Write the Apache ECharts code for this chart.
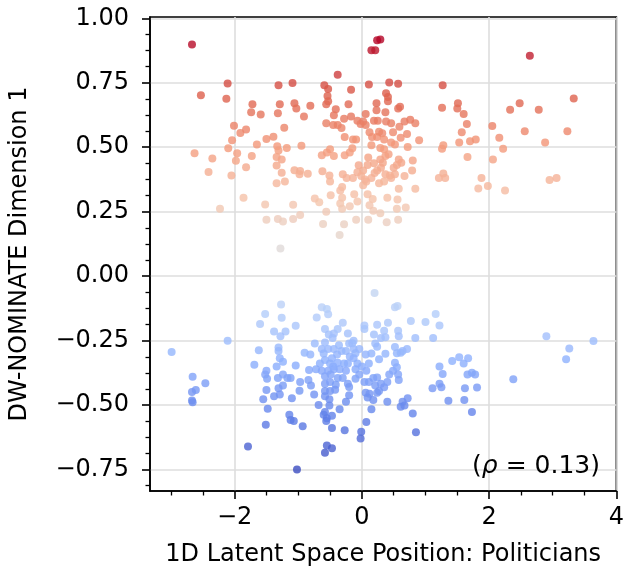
<!DOCTYPE html>
<html>
<head>
<meta charset="utf-8">
<script src="https://cdn.jsdelivr.net/npm/echarts@6/dist/echarts.min.js"></script>
<style>html,body{margin:0;padding:0;background:#fff}#c{width:627px;height:572px}</style>
</head>
<body>
<div id="c"></div>
<script>
// ---- data ----
const upperX = [-2.67,-2.53,-2.63,-2.35,-2.41,-2.23,-2.11,-2.13,-2.01,-2.04,-2.10,-1.96,-1.98,-2.05,-1.91,-1.82,-1.82,-1.86,-1.72,-1.74,-1.59,-1.73,-1.65,-1.50,-1.39,-1.31,-1.29,-1.32,-1.22,-1.33,-1.31,-1.18,-1.34,-1.26,-1.34,-1.26,-1.34,-1.21,-1.52,-1.50,-1.32,-1.24,-1.08,-1.08,-0.97,-1.28,-1.09,-1.06,-1.03,-0.91,-0.81,-0.95,-1.06,-0.97,-0.98,-0.85,-0.74,-0.67,-0.56,-0.61,-0.28,-0.35,-0.62,-0.63,-0.55,-0.50,-0.44,-0.51,-0.50,-0.49,-0.59,-0.53,-0.54,-0.53,-0.56,-0.56,-0.38,-0.41,-0.44,-0.45,-0.38,-0.32,-0.27,-0.28,-0.17,-0.21,-0.17,-0.07,-0.14,-0.09,-0.15,-0.27,-0.30,-0.31,-0.34,-0.31,-0.34,-0.31,-0.19,-0.24,-0.14,-0.12,-0.07,-0.09,0.02,-0.02,0.06,0.11,0.06,0.15,0.21,0.24,0.29,0.23,0.23,0.19,0.25,0.12,0.16,0.24,0.32,0.15,0.29,0.35,0.35,0.38,0.38,0.41,0.43,0.41,0.37,0.46,0.49,0.46,0.57,0.57,0.60,0.59,0.61,0.52,0.71,0.72,0.67,0.76,0.84,0.90,0.80,0.79,0.67,0.84,0.69,0.57,0.55,0.56,0.58,0.40,0.39,0.29,0.18,0.10,0.12,0.17,0.09,0.02,0.07,0.15,0.27,0.35,0.37,0.24,0.19,0.29,0.37,0.42,0.58,0.55,0.52,0.46,0.09,0.02,-0.07,-0.01,-0.19,1.27,1.26,1.28,1.26,1.28,1.21,1.31,1.51,1.50,1.60,1.65,1.57,1.53,1.70,1.79,1.66,1.88,1.83,1.98,2.05,2.16,2.22,2.06,2.25,2.33,2.48,2.56,2.64,2.78,2.88,2.95,3.06,3.23,3.33,0.30,0.44,0.50,0.33,0.20,0.05,-0.05,0.27,0.62,0.10];
const upperY = [0.898,0.702,0.477,0.456,0.404,0.261,0.747,0.688,0.583,0.527,0.496,0.477,0.448,0.390,0.555,0.569,0.422,0.304,0.667,0.636,0.627,0.466,0.511,0.532,0.541,0.740,0.667,0.632,0.576,0.504,0.487,0.497,0.462,0.452,0.429,0.401,0.360,0.367,0.278,0.219,0.222,0.212,0.277,0.222,0.237,0.107,0.749,0.671,0.650,0.619,0.661,0.506,0.411,0.408,0.395,0.397,0.301,0.287,0.250,0.202,0.201,0.160,0.407,0.469,0.480,0.492,0.466,0.390,0.367,0.314,0.740,0.726,0.699,0.678,0.667,0.593,0.781,0.647,0.624,0.586,0.586,0.575,0.540,0.610,0.723,0.667,0.619,0.603,0.530,0.530,0.496,0.469,0.395,0.346,0.332,0.304,0.282,0.261,0.271,0.381,0.381,0.318,0.290,0.219,0.600,0.590,0.586,0.743,0.629,0.876,0.876,0.915,0.918,0.671,0.643,0.603,0.603,0.558,0.540,0.540,0.554,0.508,0.497,0.492,0.530,0.600,0.709,0.695,0.751,0.678,0.636,0.593,0.558,0.518,0.746,0.650,0.657,0.579,0.537,0.511,0.551,0.501,0.600,0.607,0.593,0.527,0.449,0.410,0.388,0.339,0.266,0.219,0.261,0.297,0.339,0.304,0.209,0.244,0.254,0.219,0.275,0.299,0.318,0.353,0.367,0.381,0.360,0.367,0.395,0.410,0.438,0.452,0.466,0.473,0.452,0.431,0.395,0.381,0.431,0.410,0.403,0.388,0.480,0.740,0.653,0.508,0.494,0.398,0.381,0.381,0.671,0.650,0.629,0.590,0.558,0.518,0.523,0.530,0.462,0.381,0.340,0.350,0.582,0.537,0.494,0.452,0.332,0.645,0.671,0.562,0.855,0.645,0.518,0.373,0.381,0.562,0.689,0.420,0.390,0.420,0.440,0.400,0.375,0.430,0.560,0.440,0.460];
const lowerX = [-2.99,-2.66,-2.67,-2.61,-2.46,-2.67,-2.66,-2.11,-1.79,-1.02,-1.52,-1.60,-1.62,-1.69,-1.27,-1.26,-1.38,-1.20,-1.04,-1.28,-1.31,-1.31,-1.29,-1.24,-1.34,-1.50,-1.52,-1.49,-1.32,-1.24,-1.17,-1.12,-1.24,-1.31,-1.50,-1.55,-1.38,-1.29,-1.10,-1.48,-1.14,-1.12,-1.07,-0.93,-1.51,-1.04,-0.97,-0.98,-0.90,-0.81,-0.83,-0.84,-0.80,-0.75,-0.74,-0.71,-0.63,-0.55,-0.53,-0.58,-0.52,-0.44,-0.38,-0.30,-0.46,-0.58,-0.63,-0.53,-0.44,-0.36,-0.32,-0.25,-0.39,-0.47,-0.58,-0.50,-0.38,-0.28,-0.66,-0.72,-0.63,-0.53,-0.44,-0.35,-0.25,-0.58,-0.49,-0.38,-0.30,-0.58,-0.50,-0.41,-0.58,-0.50,-0.58,-0.51,-0.20,-0.25,-0.51,-0.58,-0.60,-0.55,-0.47,-0.56,-0.47,-0.35,-0.27,-0.55,-0.47,-0.58,-0.22,-0.20,-0.19,-0.22,-0.13,-0.04,-0.10,-0.13,-0.07,-0.10,-0.10,-0.04,0.04,0.04,0.20,0.24,0.19,0.21,0.30,0.35,0.41,0.37,0.24,0.37,0.27,0.18,0.24,0.06,0.11,0.07,0.04,0.11,0.21,0.30,0.35,0.40,0.43,0.49,0.52,0.55,0.57,0.58,0.52,0.55,0.61,0.64,0.71,0.57,0.58,0.52,0.56,0.77,0.84,1.00,1.16,1.22,1.12,0.06,0.12,0.24,0.09,0.18,0.40,0.27,0.15,0.07,-0.01,-0.02,0.61,0.64,0.72,0.67,0.80,0.85,1.11,1.22,1.25,1.22,1.27,1.36,1.42,1.53,1.60,1.67,1.66,1.73,1.78,1.62,1.81,1.61,1.73,2.38,2.90,3.26,3.21,3.64,-0.22,-0.13,-0.20,-0.45,-0.60,-0.15,0.15,0.00,-0.68,-0.42];
const lowerY = [-0.294,-0.390,-0.449,-0.441,-0.415,-0.482,-0.489,-0.250,-0.660,-0.750,-0.147,-0.185,-0.287,-0.343,-0.110,-0.161,-0.215,-0.215,-0.192,-0.233,-0.277,-0.290,-0.318,-0.332,-0.350,-0.367,-0.381,-0.398,-0.395,-0.381,-0.395,-0.395,-0.424,-0.435,-0.441,-0.477,-0.466,-0.459,-0.473,-0.514,-0.537,-0.558,-0.562,-0.582,-0.576,-0.346,-0.410,-0.444,-0.297,-0.304,-0.364,-0.403,-0.424,-0.459,-0.261,-0.160,-0.120,-0.127,-0.148,-0.205,-0.226,-0.222,-0.205,-0.181,-0.240,-0.257,-0.282,-0.282,-0.282,-0.268,-0.290,-0.290,-0.304,-0.318,-0.325,-0.339,-0.336,-0.339,-0.339,-0.361,-0.367,-0.367,-0.361,-0.361,-0.367,-0.388,-0.381,-0.395,-0.395,-0.417,-0.410,-0.421,-0.445,-0.445,-0.466,-0.477,-0.462,-0.487,-0.501,-0.527,-0.537,-0.551,-0.541,-0.562,-0.589,-0.516,-0.597,-0.657,-0.667,-0.685,-0.222,-0.261,-0.311,-0.339,-0.282,-0.282,-0.299,-0.318,-0.339,-0.361,-0.398,-0.381,-0.191,-0.205,-0.065,-0.188,-0.226,-0.261,-0.240,-0.212,-0.181,-0.237,-0.274,-0.301,-0.322,-0.395,-0.393,-0.304,-0.339,-0.367,-0.410,-0.410,-0.424,-0.417,-0.431,-0.410,-0.381,-0.367,-0.336,-0.353,-0.381,-0.403,-0.275,-0.299,-0.297,-0.290,-0.282,-0.212,-0.233,-0.120,-0.116,-0.174,-0.240,-0.178,-0.147,-0.191,-0.240,-0.452,-0.456,-0.452,-0.470,-0.480,-0.487,-0.445,-0.516,-0.565,-0.603,-0.629,-0.506,-0.487,-0.473,-0.501,-0.532,-0.605,-0.435,-0.417,-0.431,-0.350,-0.379,-0.483,-0.329,-0.314,-0.339,-0.318,-0.381,-0.374,-0.381,-0.435,-0.432,-0.480,-0.527,-0.400,-0.233,-0.280,-0.322,-0.251,-0.417,-0.250,-0.430,-0.350,-0.300,-0.260,-0.300,-0.350,-0.500,-0.440];

const xMajorTicks = [-2, 0, 2, 4];
const xMinorTicks = [-3, -2.5, -1.5, -1, -0.5, 0.5, 1, 1.5, 2.5, 3, 3.5];
const yMajorTicks = [-0.75, -0.5, -0.25, 0, 0.25, 0.5, 0.75, 1.0];
const yMinorTicks = [-0.8125, -0.6875, -0.625, -0.5625, -0.4375, -0.375, -0.3125, -0.1875, -0.125, -0.0625,
                     0.0625, 0.125, 0.1875, 0.3125, 0.375, 0.4375, 0.5625, 0.625, 0.6875, 0.8125, 0.875, 0.9375];
const xLabel = '1D Latent Space Position: Politicians';
const yLabel = 'DW-NOMINATE Dimension 1';
const rhoText = '0.13';

// coolwarm colormap stops (style)
const coolwarm = ['#3b4cc0','#6282ea','#8db0fe','#b8d0f9','#dddddd','#f5c4ac','#f49a7b','#dc5d4a','#b40426'];

const points = [];
upperX.forEach((x, i) => points.push([x, upperY[i]]));
lowerX.forEach((x, i) => points.push([x, lowerY[i]]));
const allY = upperY.concat(lowerY);
const cMin = Math.min.apply(null, allY), cMax = Math.max.apply(null, allY);
const stopsRGB = coolwarm.map(h => [parseInt(h.slice(1, 3), 16), parseInt(h.slice(3, 5), 16), parseInt(h.slice(5, 7), 16)]);
function cmap(v) {
  let t = (v - cMin) / (cMax - cMin);
  t = Math.max(0, Math.min(1, t)) * (stopsRGB.length - 1);
  const i = Math.min(stopsRGB.length - 2, Math.floor(t)), f = t - i;
  const a = stopsRGB[i], b = stopsRGB[i + 1];
  return 'rgb(' + [0, 1, 2].map(k => Math.round(a[k] + (b[k] - a[k]) * f)).join(',') + ')';
}

const FONT = 'DejaVu Sans';
const fmt = (v, d) => (v < 0 ? '\u2212' : '') + Math.abs(v).toFixed(d);
const X_MIN = -3.33, X_MAX = 4.0, Y_MIN = -0.833, Y_MAX = 1.005;
const GRID_COLOR = '#dedede';

const chart = echarts.init(document.getElementById('c'), null, {renderer: 'canvas'});
chart.setOption({
  animation: false,
  backgroundColor: '#fff',
  grid: {left: 145, top: 17, width: 472, height: 477, show: true, borderColor: '#000', borderWidth: 1.6},
  title: {
    text: '{p|(}{r|\u03c1}{p| = ' + rhoText + ')}',
    right: 22, top: 449,
    textStyle: {fontWeight: 'normal', rich: {
      p: {fontFamily: FONT, fontSize: 25, fontWeight: 'normal', color: '#000'},
      r: {fontFamily: FONT, fontSize: 25, fontWeight: 'normal', fontStyle: 'italic', color: '#000'}
    }}
  },
  xAxis: [{
    type: 'value', min: X_MIN, max: X_MAX,
    axisLine: {show: true, onZero: false, lineStyle: {color: '#000', width: 1.6}},
    axisTick: {show: true, customValues: xMajorTicks, length: 8, lineStyle: {color: '#000', width: 1.6}},
    axisLabel: {customValues: xMajorTicks, formatter: v => fmt(v, 0), fontSize: 24, color: '#000', margin: 15, fontFamily: FONT},
    splitLine: {show: true, lineStyle: {color: GRID_COLOR, width: 1.6}},
    name: xLabel, nameLocation: 'middle', nameGap: 52,
    nameTextStyle: {fontSize: 24, color: '#000', fontFamily: FONT}
  }, {
    type: 'value', min: X_MIN, max: X_MAX, position: 'bottom',
    axisLine: {show: false, onZero: false},
    axisTick: {show: true, customValues: xMinorTicks, length: 4.5, lineStyle: {color: '#000', width: 1.3}},
    axisLabel: {show: false}, splitLine: {show: false}
  }],
  yAxis: [{
    type: 'value', min: Y_MIN, max: Y_MAX,
    axisLine: {show: true, onZero: false, lineStyle: {color: '#000', width: 1.6}},
    axisTick: {show: true, customValues: yMajorTicks, length: 8, lineStyle: {color: '#000', width: 1.6}},
    axisLabel: {customValues: yMajorTicks, formatter: v => fmt(v, 2), fontSize: 24, color: '#000', margin: 21, fontFamily: FONT},
    splitLine: {show: true, lineStyle: {color: GRID_COLOR, width: 1.6}},
    name: yLabel, nameLocation: 'middle', nameGap: 118, nameRotate: 90,
    nameTextStyle: {fontSize: 24, color: '#000', fontFamily: FONT}
  }, {
    type: 'value', min: Y_MIN, max: Y_MAX, position: 'left',
    axisLine: {show: false, onZero: false},
    axisTick: {show: true, customValues: yMinorTicks, length: 4.5, lineStyle: {color: '#000', width: 1.3}},
    axisLabel: {show: false}, splitLine: {show: false}
  }],
  series: [{
    type: 'scatter', xAxisIndex: 0, yAxisIndex: 0,
    data: points, symbolSize: 8,
    itemStyle: {color: p => cmap(p.value[1])}
  }]
});
</script>
</body>
</html>
